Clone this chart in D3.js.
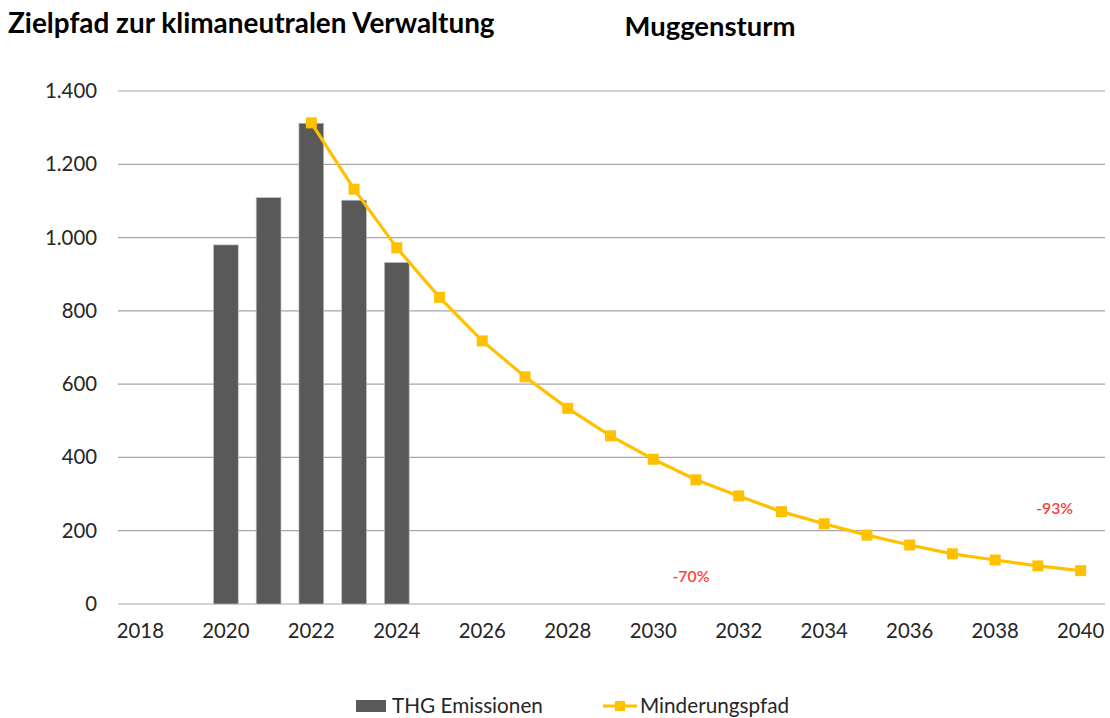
<!DOCTYPE html>
<html><head><meta charset="utf-8">
<script src="https://cdn.jsdelivr.net/npm/d3@7"></script>
<style>body{margin:0;background:#fff}svg{display:block}</style>
</head><body>
<svg id="c" width="1110" height="718"></svg>
<script>
const years = d3.range(2018, 2041).map(String);
const barYears = ["2020","2021","2022","2023","2024"];
const barValues = [980, 1109, 1312, 1102, 932];
const lineYears = ["2022","2023","2024","2025","2026","2027","2028","2029","2030","2031","2032","2033","2034","2035","2036","2037","2038","2039","2040"];
const lineValues = [1313, 1132, 972, 837, 718, 620, 534, 459, 395, 339, 295, 252, 219, 188, 161, 137, 120, 104, 91];
const yTicks = [0, 200, 400, 600, 800, 1000, 1200, 1400];
const xTickLabels = ["2018","2020","2022","2024","2026","2028","2030","2032","2034","2036","2038","2040"];
const annotations = [{year:"2031", value:75, text:"-70%"}, {year:"2040", value:258, text:"-93%"}];

const svg = d3.select("#c");
const font = "Lato, sans-serif";
function fitSize(txt, target, weight) {
  const t = svg.append("text").attr("font-family", font).attr("font-size", 100)
    .attr("font-weight", weight || "normal").text(txt);
  const w = t.node().getComputedTextLength();
  t.remove();
  return 100 * target / w;
}
const titleSize = fitSize("Zielpfad zur klimaneutralen Verwaltung", 487, "bold");
const subSize = fitSize("Muggensturm", 171, "bold");
const tickSize = fitSize("1.400", 52);
const legSize = fitSize("THG Emissionen", 151);
const annSize = fitSize("-70%", 37, 600);

const L = 119, R = 1102, T = 91, B = 604;
const x = d3.scaleBand().domain(years).range([L, R]).paddingInner(0.42).paddingOuter(0.21);
const xc = d => x(d) + x.bandwidth()/2;
const y = d3.scaleLinear().domain([0, 1400]).range([B, T]);

svg.append("g").selectAll("line").data(yTicks).join("line")
  .attr("x1", 118).attr("x2", R+3).attr("y1", d=>y(d)).attr("y2", d=>y(d))
  .attr("stroke", "#a6a6a6").attr("stroke-width", 1.2);

const fmt = d => d3.format(",")(d).replace(/,/g, ".");
const yAxis = svg.append("g").attr("transform", `translate(${L},0)`)
  .call(d3.axisLeft(y).tickValues(yTicks).tickFormat(fmt).tickSize(0).tickPadding(22));
yAxis.select(".domain").remove();
yAxis.selectAll("text").attr("font-family", font).attr("font-size", tickSize).attr("fill", "#262626");

const xAxis = svg.append("g").attr("transform", `translate(0,${B})`)
  .call(d3.axisBottom(x).tickValues(xTickLabels).tickSize(0).tickPadding(20));
xAxis.select(".domain").remove();
xAxis.selectAll("text").attr("font-family", font).attr("font-size", tickSize).attr("fill", "#262626");

svg.append("g").selectAll("rect").data(barYears.map((d,i)=>({k:d,v:barValues[i]}))).join("rect")
  .attr("x", d=>x(d.k)).attr("width", x.bandwidth())
  .attr("y", d=>y(d.v)).attr("height", d=>B - y(d.v))
  .attr("fill", "#595959").attr("stroke", "#bfbfbf").attr("stroke-width", 0.7);

const pts = lineYears.map((d,i)=>({k:d,v:lineValues[i]}));
svg.append("path").datum(pts)
  .attr("d", d3.line().x(d=>xc(d.k)).y(d=>y(d.v)))
  .attr("fill", "none").attr("stroke", "#FFC000").attr("stroke-width", 3.2);
svg.append("g").selectAll("rect").data(pts).join("rect")
  .attr("x", d=>xc(d.k)-5.5).attr("y", d=>y(d.v)-5.5).attr("width", 11).attr("height", 11)
  .attr("fill", "#FFC000");

svg.append("g").selectAll("text").data(annotations).join("text")
  .attr("x", d=>xc(d.year)-(d.year==="2040"?26:5)).attr("y", d=>y(d.value)+5)
  .attr("text-anchor", "middle").attr("font-family", font).attr("font-size", annSize)
  .attr("font-weight", 600).attr("fill", "#FF3B3B").text(d=>d.text);

svg.append("text").attr("x", 8).attr("y", 33).attr("font-family", font).attr("font-weight", "bold")
  .attr("font-size", titleSize).attr("fill", "#000").text("Zielpfad zur klimaneutralen Verwaltung");
svg.append("text").attr("x", 710).attr("y", 36).attr("text-anchor", "middle").attr("font-family", font)
  .attr("font-weight", "bold").attr("font-size", subSize).attr("fill", "#000").text("Muggensturm");

const lg = svg.append("g");
lg.append("rect").attr("x", 356).attr("y", 700).attr("width", 30).attr("height", 12).attr("fill", "#595959");
lg.append("text").attr("x", 392).attr("y", 713).attr("font-family", font).attr("font-size", legSize).attr("fill", "#262626").text("THG Emissionen");
lg.append("line").attr("x1", 603).attr("x2", 637).attr("y1", 706).attr("y2", 706).attr("stroke", "#FFC000").attr("stroke-width", 3);
lg.append("rect").attr("x", 615).attr("y", 701).attr("width", 10).attr("height", 10).attr("fill", "#FFC000");
lg.append("text").attr("x", 640).attr("y", 713).attr("font-family", font).attr("font-size", legSize).attr("fill", "#262626").text("Minderungspfad");
</script>
</body></html>
